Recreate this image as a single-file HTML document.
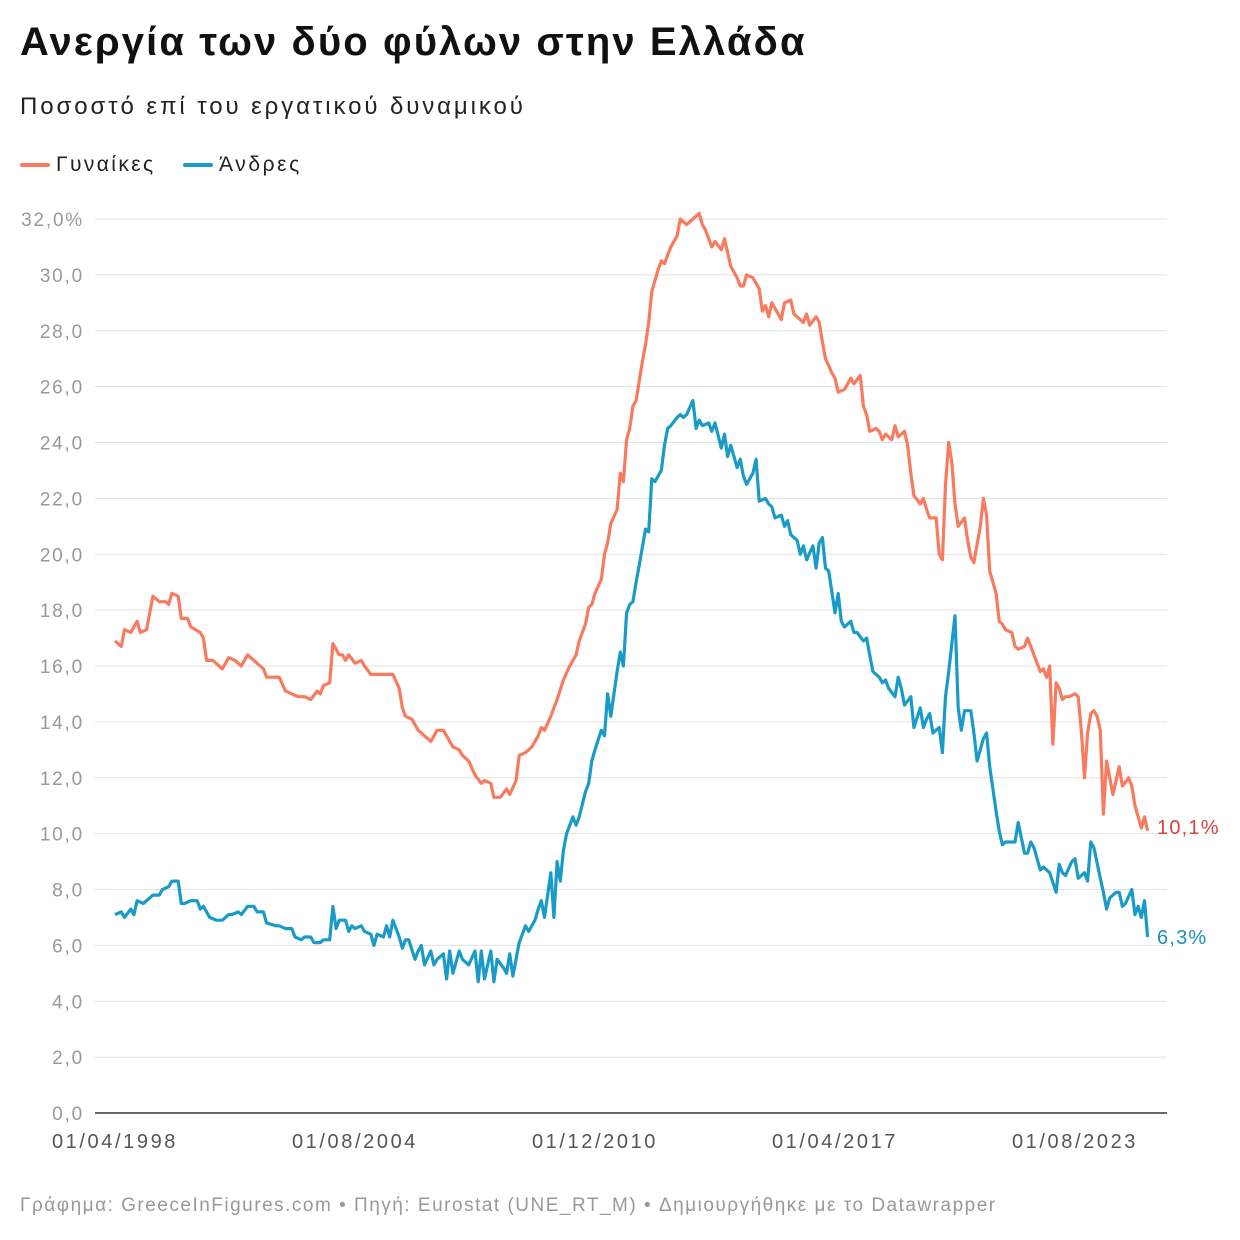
<!DOCTYPE html>
<html><head><meta charset="utf-8">
<style>
body{margin:0;background:#fff;font-family:"Liberation Sans","DejaVu Sans",sans-serif;}
#wrap{position:relative;width:1240px;height:1240px;overflow:hidden;}
.t{position:absolute;white-space:nowrap;}
</style></head>
<body>
<div id="wrap">
<div class="t" style="left:20px;top:20px;font-size:40px;font-weight:bold;color:#111;letter-spacing:2.1px;">Ανεργία των δύο φύλων στην Ελλάδα</div>
<div class="t" style="left:20px;top:93px;font-size:24px;color:#222;letter-spacing:2.9px;">Ποσοστό επί του εργατικού δυναμικού</div>
<div class="t" style="left:20px;top:153px;font-size:21px;color:#222;letter-spacing:2.4px;"><span style="display:inline-block;width:30px;height:4px;background:#f87a5f;vertical-align:middle;margin-right:6px;border-radius:2px;"></span>Γυναίκες</div>
<div class="t" style="left:183px;top:153px;font-size:21px;color:#222;letter-spacing:2.6px;"><span style="display:inline-block;width:30px;height:4px;background:#1a9bc7;vertical-align:middle;margin-right:6px;border-radius:2px;"></span>Άνδρες</div>
<svg id="chart" width="1240" height="1240" style="position:absolute;left:0;top:0;font-family:'Liberation Sans',sans-serif;"></svg>
<div class="t" style="left:20px;top:1195px;font-size:19px;color:#999;letter-spacing:1.5px;">Γράφημα: GreeceInFigures.com • Πηγή: Eurostat (UNE_RT_M) • Δημιουργήθηκε με το Datawrapper</div>
</div>
<script>
const yTicks=[0,2,4,6,8,10,12,14,16,18,20,22,24,26,28,30,32];
const xTickLabels=["01/04/1998","01/08/2004","01/12/2010","01/04/2017","01/08/2023"];
const xTickMonths=[0,76,152,228,304];
const monthsW=[0,2,3,5,7,8,10,12,14,16,17,18,20,21,23,24,27,28,29,31,33,34,36,38,40,42,44,47,48,52,54,56,58,60,62,64,65,66,68,69,71,72,73,74,76,78,79,81,83,86,88,90,91,92,94,96,98,100,102,104,105,107,109,110,112,114,116,117,119,120,122,124,125,127,128,130,132,134,135,136,138,140,142,144,146,147,149,150,151,152,154,155,156,157,159,160,161,162,163,164,165,167,168,169,170,172,173,174,175,176,178,179,180,181,183,185,186,187,189,190,192,193,194,195,197,198,199,200,202,204,205,206,207,208,210,211,212,214,215,216,218,219,220,222,223,224,225,227,228,229,231,232,233,234,236,237,238,239,241,242,243,244,246,247,248,250,251,252,253,255,256,257,258,260,261,262,263,264,265,266,267,269,270,271,272,274,275,276,277,279,280,281,282,284,285,286,288,289,290,291,293,294,295,296,297,298,299,300,301,302,304,305,306,307,308,309,310,311,312,313,314,316,317,318,319,321,322,323,325,326,327];
const valuesW=[16.9,16.7,17.3,17.2,17.6,17.2,17.3,18.5,18.3,18.3,18.2,18.6,18.5,17.7,17.7,17.4,17.2,17.0,16.2,16.2,16.0,15.9,16.3,16.2,16.0,16.4,16.2,15.9,15.6,15.6,15.1,15.0,14.9,14.9,14.8,15.1,15.0,15.3,15.4,16.8,16.4,16.4,16.2,16.4,16.1,16.2,16.0,15.7,15.7,15.7,15.7,15.2,14.5,14.2,14.1,13.7,13.5,13.3,13.7,13.7,13.5,13.1,13.0,12.8,12.6,12.1,11.8,11.9,11.8,11.3,11.3,11.6,11.4,11.9,12.8,12.9,13.1,13.5,13.8,13.7,14.2,14.8,15.5,16.0,16.4,16.9,17.5,18.1,18.2,18.6,19.1,20.0,20.4,21.1,21.6,22.9,22.6,24.1,24.5,25.3,25.5,26.9,27.5,28.3,29.4,30.2,30.5,30.4,30.7,31.0,31.4,32.0,31.9,31.8,32.0,32.2,31.8,31.6,31.0,31.2,30.9,31.3,30.8,30.3,29.9,29.6,29.6,30.0,29.9,29.5,28.7,28.9,28.5,29.0,28.6,28.4,29.0,29.1,28.6,28.5,28.3,28.6,28.2,28.5,28.3,27.6,27.0,26.5,26.3,25.8,25.9,26.1,26.3,26.1,26.4,25.3,25.0,24.4,24.5,24.4,24.1,24.3,24.1,24.6,24.2,24.4,23.9,22.9,22.1,21.8,22.0,21.6,21.3,21.3,20.0,19.8,22.5,24.0,23.3,21.8,21.0,21.3,20.5,19.9,19.7,21.0,22.0,21.4,19.4,18.6,17.6,17.5,17.3,17.2,16.7,16.6,16.7,17.0,16.7,16.4,15.8,15.9,15.6,16.0,13.2,15.4,15.2,14.8,14.9,14.9,15.0,14.9,13.7,12.0,13.6,14.3,14.4,14.2,13.7,10.7,12.6,11.4,11.9,12.4,11.7,12.0,11.7,11.0,10.2,10.6,10.1];
const monthsM=[0,2,3,5,6,7,9,10,12,14,15,17,18,20,21,22,24,26,27,28,30,32,34,36,37,39,40,42,44,45,47,48,51,52,54,56,57,59,60,62,63,65,66,68,69,70,71,73,74,75,76,78,79,81,82,83,85,86,87,88,90,91,92,93,95,96,97,98,100,101,102,104,105,106,107,109,110,111,112,114,115,116,117,119,120,121,123,124,125,126,128,129,130,131,133,134,135,136,138,139,140,141,142,143,145,146,147,149,150,151,152,154,155,156,157,159,160,161,162,163,164,165,166,168,169,170,171,173,174,175,176,178,179,180,181,183,184,185,186,188,189,190,192,193,194,195,197,198,199,200,202,203,204,206,207,208,209,211,212,213,214,216,217,218,219,221,222,223,224,225,226,228,229,230,231,233,234,235,237,238,239,240,242,243,244,245,247,248,249,250,252,253,255,256,257,258,259,261,262,263,264,266,267,268,269,271,272,273,275,276,277,278,279,280,281,282,284,285,286,288,289,290,291,293,294,295,296,298,299,300,301,303,304,305,307,308,309,310,312,313,314,315,317,318,319,320,322,323,324,325,326,327];
const valuesM=[7.1,7.2,7.0,7.3,7.1,7.6,7.5,7.6,7.8,7.8,8.0,8.1,8.3,8.3,7.5,7.5,7.6,7.6,7.3,7.4,7.0,6.9,6.9,7.1,7.1,7.2,7.1,7.4,7.4,7.2,7.2,6.8,6.7,6.7,6.6,6.6,6.3,6.2,6.3,6.3,6.1,6.1,6.2,6.2,7.4,6.6,6.9,6.9,6.5,6.7,6.6,6.7,6.5,6.4,6.0,6.4,6.3,6.7,6.3,6.9,6.3,5.9,6.2,6.2,5.5,5.8,6.0,5.3,5.8,5.3,5.5,5.7,4.8,5.8,5.0,5.8,5.5,5.4,5.3,5.8,4.7,5.8,4.8,5.8,4.7,5.5,5.2,5.0,5.7,4.9,6.1,6.4,6.7,6.5,6.9,7.3,7.6,7.0,8.6,7.0,9.0,8.3,9.4,10.0,10.6,10.3,10.6,11.5,11.8,12.6,13.0,13.7,13.5,15.0,14.2,15.8,16.5,16.0,17.9,18.2,18.3,19.0,19.6,20.9,20.8,22.7,22.6,23.0,23.9,24.5,24.6,24.9,25.0,24.9,25.0,25.5,24.5,24.8,24.6,24.7,24.4,24.7,23.8,24.3,23.5,23.9,23.1,23.4,22.8,22.5,22.9,23.4,21.9,22.0,21.8,21.7,21.3,21.4,21.0,21.2,20.7,20.5,20.0,20.3,19.8,20.3,19.5,20.4,20.6,19.5,19.4,17.9,18.6,17.6,17.4,17.6,17.2,17.2,16.9,17.0,16.4,15.8,15.6,15.4,15.5,15.2,14.9,15.6,15.2,14.6,14.9,13.8,14.5,13.8,14.1,14.3,13.6,13.8,12.9,14.9,15.8,17.8,14.5,13.7,14.4,14.4,13.6,12.6,13.4,13.6,12.4,11.6,10.8,10.1,9.6,9.7,9.7,9.7,10.4,9.3,9.3,9.7,9.5,8.7,8.8,8.7,8.6,7.9,8.9,8.6,8.5,9.0,9.1,8.4,8.6,8.3,9.7,9.5,8.4,7.9,7.3,7.7,7.9,7.9,7.4,7.5,8.0,7.1,7.4,7.0,7.6,6.3];

const NS="http://www.w3.org/2000/svg";
const svg=document.getElementById('chart');
const X0=115,PXM=240/76,Y0=1113,PXV=(1113-219)/32;
const xs=m=>X0+m*PXM, ys=v=>Y0-v*PXV;
function mk(t,a){const e=document.createElementNS(NS,t);for(const k in a)e.setAttribute(k,a[k]);svg.appendChild(e);return e;}
yTicks.forEach((v,i)=>{
  if(v>0){const g=mk('line',{x1:95,x2:1167,y1:ys(v),y2:ys(v),stroke:'#e1e1e1','stroke-width':1});
  
  }
  const t=mk('text',{x:84,y:ys(v)+7,'text-anchor':'end','font-size':19,fill:'#999','letter-spacing':'1.8px'});
  t.textContent=v.toFixed(1).replace('.',',')+(i===yTicks.length-1?'%':'');
  
  
});
const ax=mk('line',{x1:95,x2:1167,y1:Y0,y2:Y0,stroke:'#333','stroke-width':1.5});


xTickLabels.forEach((l,i)=>{
  const t=mk('text',{x:xs(xTickMonths[i]),y:1148,'text-anchor':'middle','font-size':20,fill:'#555','letter-spacing':'2.6px'});
  t.textContent=l;
  
  
});
function line(ms,vs,col,name){
  const d=ms.map((m,i)=>(i?'L':'M')+xs(m).toFixed(1)+','+ys(vs[i]).toFixed(1)).join('');
  const p=mk('path',{d:d,fill:'none',stroke:col,'stroke-width':3.2,'stroke-linejoin':'round'});
  
  
}
line(monthsW,valuesW,'#f87a5f','line-women');
line(monthsM,valuesM,'#1a9bc7','line-men');
const lw=valuesW[valuesW.length-1], lm=valuesM[valuesM.length-1];
const t1=mk('text',{x:1157,y:ys(lw)+3,'font-size':20,fill:'#d6443c','letter-spacing':'1.2px'});
t1.textContent=lw.toFixed(1).replace('.',',')+'%';


const t2=mk('text',{x:1157,y:ys(lm)+7,'font-size':20,fill:'#1b8dbb','letter-spacing':'1.2px'});
t2.textContent=lm.toFixed(1).replace('.',',')+'%';


</script>
</body></html>
